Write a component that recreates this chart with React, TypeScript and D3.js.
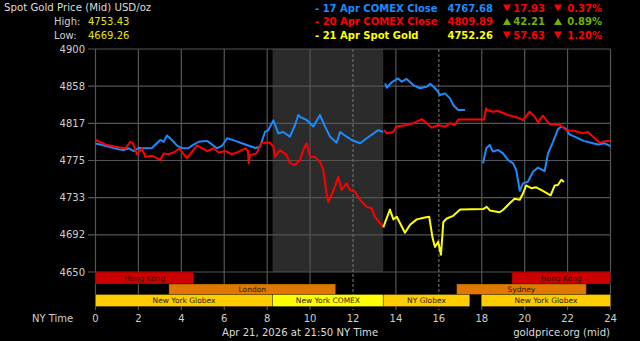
import React from "react";
import * as d3 from "d3";

// ---------- data ----------
const hourTicks = [0, 2, 4, 6, 8, 10, 12, 14, 16, 18, 20, 22, 24];
const dashedHours = [12, 16];
const priceTicks = [4650, 4691.67, 4733.33, 4775, 4816.67, 4858.33, 4900];

const blue17AprA: [number, number][] = [
  [0, 4794], [0.46, 4791.6], [1.08, 4787.5], [1.3, 4786.8], [1.55, 4788.7], [1.78, 4785.6], [2.0, 4789],
  [2.32, 4788.7], [2.63, 4789], [3.02, 4798], [3.18, 4796], [3.33, 4803], [3.56, 4798], [3.8, 4791.6],
  [4.03, 4788.7], [4.34, 4789], [4.5, 4791.6], [4.8, 4796], [5.2, 4797], [5.43, 4793], [5.66, 4788.7],
  [5.9, 4791.6], [6.13, 4800], [6.52, 4797], [6.98, 4793], [7.45, 4789], [7.67, 4790.5], [7.9, 4807],
  [8.05, 4809], [8.29, 4820], [8.52, 4805.5], [8.75, 4807], [9.06, 4801.7], [9.3, 4814.8], [9.45, 4826],
  [9.53, 4824], [9.84, 4820.4], [10.0, 4816.7], [10.15, 4813], [10.46, 4826], [10.7, 4813], [10.93, 4801.7],
  [11.24, 4795], [11.4, 4807], [11.7, 4801.7], [11.94, 4798], [12.33, 4794.3], [12.64, 4800], [13.18, 4809],
  [13.4, 4807],
];
const blue17AprB: [number, number][] = [
  [13.5, 4861.5], [13.57, 4856.6], [13.8, 4862.7], [14.1, 4867], [14.27, 4863.3], [14.5, 4866.4],
  [14.81, 4859.6], [15.12, 4856], [15.43, 4857.7], [15.6, 4861], [15.9, 4854], [16.05, 4848.4],
  [16.29, 4850.3], [16.52, 4844.7], [16.67, 4837.2], [16.9, 4831.6], [17.22, 4831.6],
];
const blue17AprC: [number, number][] = [
  [18.06, 4771.8], [18.21, 4788.7], [18.37, 4792.4], [18.52, 4785], [18.76, 4786.8], [18.99, 4783],
  [19.22, 4775.6], [19.46, 4771.8], [19.61, 4764.3], [19.77, 4741], [19.92, 4749.4], [20.15, 4751.2],
  [20.39, 4762.4], [20.62, 4767], [20.93, 4763.2], [21.09, 4783], [21.32, 4796], [21.55, 4810],
  [21.71, 4813], [21.9, 4811], [22.1, 4804], [22.33, 4801.7], [22.75, 4797], [23.18, 4794.3],
  [23.42, 4793], [23.73, 4794.3], [24, 4791],
];
const red20AprA: [number, number][] = [
  [0, 4798], [0.46, 4793], [0.92, 4790.5], [1.39, 4788.7], [1.62, 4796], [1.75, 4794], [1.93, 4782],
  [2.17, 4788.7], [2.32, 4779], [2.63, 4780.4], [3.02, 4775.6], [3.18, 4783], [3.41, 4782], [3.72, 4785],
  [3.9, 4788.7], [4.11, 4782], [4.26, 4777.6], [4.5, 4785], [4.73, 4792], [4.96, 4789], [5.2, 4785.6],
  [5.5, 4788.7], [5.74, 4784], [6.05, 4785.6], [6.36, 4782], [6.67, 4785], [6.98, 4788.7], [7.1, 4786],
  [7.14, 4772], [7.2, 4781], [7.5, 4783], [7.74, 4795], [8.13, 4795], [8.29, 4790.5], [8.36, 4779],
  [8.6, 4786.8], [8.91, 4781], [9.06, 4772], [9.3, 4770], [9.53, 4775.6], [9.68, 4786.8], [9.84, 4794.3],
  [10.0, 4779], [10.23, 4779], [10.46, 4773.7], [10.62, 4764.3], [10.77, 4738], [10.85, 4728.8],
  [11.0, 4736.3], [11.16, 4745.6], [11.31, 4756.8], [11.47, 4742], [11.7, 4749.4], [11.86, 4742],
  [12.09, 4740], [12.33, 4730.7], [12.64, 4723], [12.87, 4721.4], [13.02, 4712], [13.26, 4704.6],
  [13.41, 4700.8],
];
const red20AprB: [number, number][] = [
  [13.45, 4809], [13.57, 4805.5], [13.88, 4807], [14.03, 4813], [14.5, 4814.8], [14.81, 4816.7],
  [15.2, 4821.5], [15.43, 4816.7], [15.67, 4811.8], [15.97, 4814.8], [16.29, 4813], [16.52, 4816.7],
  [16.75, 4814.8], [16.9, 4821], [18.1, 4821], [18.2, 4833.5], [18.26, 4831.6], [18.5, 4829.7],
  [18.76, 4830.5], [19.22, 4826], [19.69, 4823], [19.92, 4820.4], [20.23, 4829.7], [20.47, 4824],
  [20.62, 4817.8], [20.85, 4825.2], [21.0, 4820.4], [21.17, 4815.6], [21.4, 4816], [21.63, 4815],
  [21.94, 4809], [22.33, 4808], [22.72, 4805.5], [22.95, 4807], [23.26, 4800], [23.5, 4795],
  [23.8, 4797], [24, 4797],
];
const yellow21Apr: [number, number][] = [
  [13.41, 4700], [13.72, 4720], [13.88, 4709], [14.04, 4712], [14.42, 4694], [14.66, 4703],
  [14.97, 4709], [15.35, 4711], [15.55, 4712], [15.71, 4688], [15.82, 4678], [15.97, 4684],
  [16.1, 4669.3], [16.21, 4706], [16.37, 4710], [16.67, 4713], [16.99, 4720], [18.07, 4720.5],
  [18.23, 4723], [18.38, 4719], [18.83, 4717], [18.99, 4719.5], [19.3, 4727], [19.53, 4732],
  [19.77, 4731], [19.92, 4738], [20.07, 4747], [20.31, 4744], [20.54, 4745], [20.85, 4741],
  [21.21, 4736], [21.4, 4747], [21.55, 4747.5], [21.71, 4753.4], [21.83, 4751],
];

const shadedFrom = 8.25;
const shadedTo = 13.41;

const sessionNames = ["Hong Kong", "Hong Kong", "London", "Sydney", "New York Globex", "New York COMEX", "NY Globex", "New York Globex"];
const sessionStarts = [0, 19.41, 3.42, 16.83, 0, 8.25, 13.41, 17.98];
const sessionEnds = [4.58, 24, 11.19, 22.87, 8.25, 13.41, 17.44, 24];
const sessionRows = [0, 0, 1, 1, 2, 2, 2, 2];

const legendLabels = ["17 Apr COMEX Close", "20 Apr COMEX Close", "21 Apr Spot Gold"];
const legendPrices = ["4767.68", "4809.89", "4752.26"];
const legendChanges = ["17.93", "42.21", "57.63"];
const legendPercents = ["0.37%", "0.89%", "1.20%"];
const legendUp = [false, true, false];

const highValue = "4753.43";
const lowValue = "4669.26";

// ---------- styles ----------
const BLUE = "#1a8cff";
const RED = "#ff0000";
const YELLOW = "#ffff00";
const GREEN = "#6db300";
const FONT = "'DejaVu Sans', Verdana, sans-serif";
const sessionColors: Record<string, string> = {
  "Hong Kong": "#cc0000",
  London: "#e07800",
  Sydney: "#e07800",
  "New York Globex": "#ffcc00",
  "NY Globex": "#ffcc00",
  "New York COMEX": "#ffff00",
};

export default function App() {
  const x = d3.scaleLinear().domain([0, 24]).range([95.5, 610.5]);
  const y = d3.scaleLinear().domain([4650, 4900]).range([272, 49]);
  const line = d3.line<[number, number]>().x((d) => x(d[0])).y((d) => y(d[1]));
  const rowTop = [272, 284, 294.5];
  const rowBottom = [284, 294.5, 306.5];

  const tri = (cx: number, cy: number, up: boolean) =>
    up
      ? `M${cx - 4},${cy + 3.5}L${cx + 4},${cy + 3.5}L${cx},${cy - 3.5}Z`
      : `M${cx - 4},${cy - 3.5}L${cx + 4},${cy - 3.5}L${cx},${cy + 3.5}Z`;

  const legendColors = [BLUE, RED, YELLOW];
  const rowY = [8, 21.5, 35];

  return (
    <svg
      width={640}
      height={341}
      style={{ position: "absolute", left: 0, top: 0, display: "block" }}
      fontFamily={FONT}
    >
      <rect x={0} y={0} width={640} height={341} fill="#000" />

      {/* shaded COMEX session */}
      <rect x={x(shadedFrom)} y={y(4900)} width={x(shadedTo) - x(shadedFrom)} height={y(4650) - y(4900)} fill="#2b2b2b" />

      {/* horizontal grid */}
      {priceTicks.map((p) => (
        <g key={p}>
          <line x1={88} x2={x(24)} y1={y(p)} y2={y(p)} stroke="#555" strokeWidth={1.2} />
          <text x={85} y={y(p)} dy="0.36em" textAnchor="end" fill="#cfcfcf" fontSize={10}>
            {Math.round(p)}
          </text>
        </g>
      ))}

      {/* vertical grid */}
      {hourTicks.map((h) => (
        <g key={h}>
          <line
            x1={x(h)}
            x2={x(h)}
            y1={y(4900)}
            y2={310}
            stroke={dashedHours.includes(h) ? "#6a6a6a" : "#555"}
            strokeWidth={1.2}
            strokeDasharray={dashedHours.includes(h) ? "3,2" : undefined}
          />
          <text x={x(h)} y={318} dy="0.36em" textAnchor="middle" fill="#cfcfcf" fontSize={10}>
            {h}
          </text>
        </g>
      ))}

      {/* series */}
      {[blue17AprA, blue17AprB, blue17AprC].map((s, i) => (
        <path key={"b" + i} d={line(s) || ""} fill="none" stroke={BLUE} strokeWidth={2} strokeLinejoin="round" />
      ))}
      {[red20AprA, red20AprB].map((s, i) => (
        <path key={"r" + i} d={line(s) || ""} fill="none" stroke={RED} strokeWidth={2} strokeLinejoin="round" />
      ))}
      <path d={line(yellow21Apr) || ""} fill="none" stroke={YELLOW} strokeWidth={2} strokeLinejoin="round" />

      {/* market sessions */}
      {sessionNames.map((name, i) => {
        const x0 = x(sessionStarts[i]);
        const x1 = x(sessionEnds[i]);
        const r = sessionRows[i];
        return (
          <g key={"s" + i}>
            <rect
              x={x0}
              y={rowTop[r]}
              width={x1 - x0}
              height={rowBottom[r] - rowTop[r]}
              fill={sessionColors[name]}
              stroke="rgba(0,0,0,0.35)"
              strokeWidth={0.8}
            />
            <text
              x={(x0 + x1) / 2}
              y={(rowTop[r] + rowBottom[r]) / 2}
              dy="0.36em"
              textAnchor="middle"
              fontSize={7.5}
              fill="#2a1a00"
            >
              {name}
            </text>
          </g>
        );
      })}

      {/* header left */}
      <text x={4} y={7} dy="0.36em" fill="#dcdcdc" fontSize={10.2}>
        Spot Gold Price (Mid) USD/oz
      </text>
      <text x={54} y={21} dy="0.36em" fill="#d0d0d0" fontSize={10}>High:</text>
      <text x={88} y={21} dy="0.36em" fill="#e6e600" fontSize={10}>{highValue}</text>
      <text x={54} y={35} dy="0.36em" fill="#d0d0d0" fontSize={10}>Low:</text>
      <text x={88} y={35} dy="0.36em" fill="#e6e600" fontSize={10}>{lowValue}</text>

      {/* header legend */}
      {legendLabels.map((lab, i) => {
        const cy = rowY[i];
        const col = legendColors[i];
        const chCol = legendUp[i] ? GREEN : RED;
        return (
          <g key={"l" + i} fontWeight="bold" fontSize={10}>
            <text x={315} y={cy} dy="0.36em" fill={col}>{"- " + lab}</text>
            <text x={493} y={cy} dy="0.36em" fill={col} textAnchor="end">{legendPrices[i]}</text>
            <path d={tri(507, cy, legendUp[i])} fill={chCol} />
            <text x={545} y={cy} dy="0.36em" fill={chCol} textAnchor="end">{legendChanges[i]}</text>
            <path d={tri(558, cy, legendUp[i])} fill={chCol} />
            <text x={602} y={cy} dy="0.36em" fill={chCol} textAnchor="end">{legendPercents[i]}</text>
          </g>
        );
      })}

      {/* footer */}
      <text x={32} y={318} dy="0.36em" fill="#cfcfcf" fontSize={10}>NY Time</text>
      <text x={222} y={332} dy="0.36em" fill="#dcdcdc" fontSize={10.1}>
        Apr 21, 2026 at 21:50 NY Time
      </text>
      <text x={610} y={332} dy="0.36em" fill="#dcdcdc" fontSize={10.1} textAnchor="end">
        goldprice.org (mid)
      </text>
    </svg>
  );
}
